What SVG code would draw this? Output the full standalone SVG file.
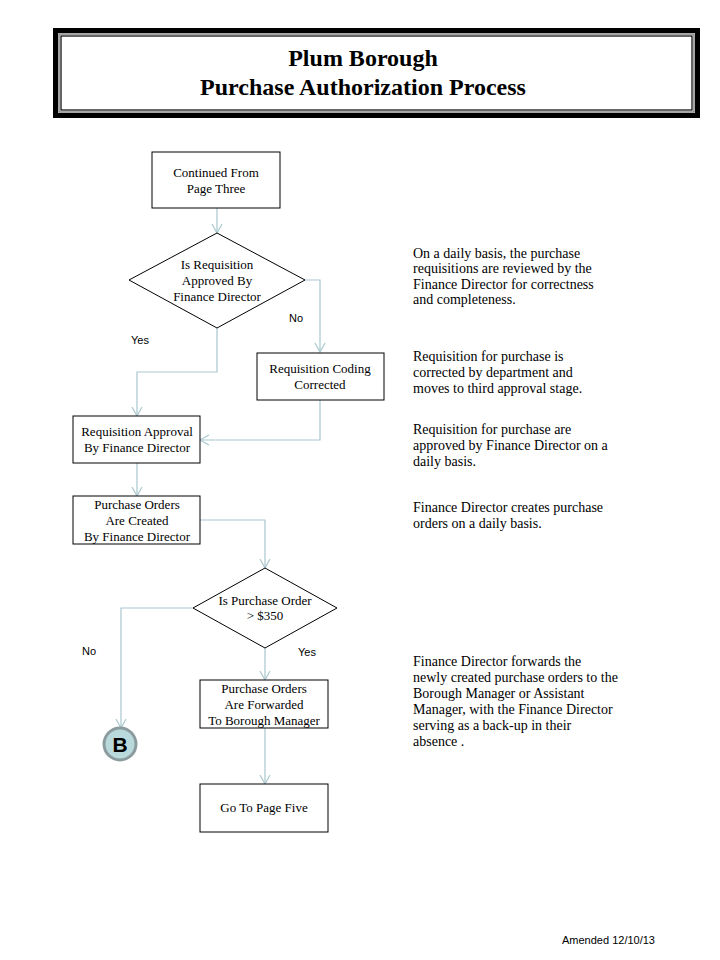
<svg xmlns="http://www.w3.org/2000/svg" width="720" height="960" viewBox="0 0 720 960">
<defs>
<style>
.box{fill:#fff;stroke:#000;stroke-width:1}
.t{font-family:"Liberation Serif","Times New Roman",serif;font-size:13px;fill:#000;text-anchor:middle}
.n{font-family:"Liberation Serif","Times New Roman",serif;font-size:14px;fill:#000}
.lab{font-family:"Liberation Sans",Arial,sans-serif;font-size:11px;fill:#000}
.c{fill:none;stroke:#a9c7cf;stroke-width:1.2}
.title{font-family:"Liberation Serif","Times New Roman",serif;font-size:24px;font-weight:bold;fill:#000;text-anchor:middle}
</style>
<marker id="ah" markerWidth="12" markerHeight="12" refX="10" refY="6" orient="auto" markerUnits="userSpaceOnUse">
<path d="M1,1 L10,6 L1,11" fill="none" stroke="#a9c7cf" stroke-width="1.2"/>
</marker>
</defs>
<rect width="720" height="960" fill="#fff"/>
<g id="title">
<rect x="55.5" y="30.5" width="642" height="85" fill="#fff" stroke="#000" stroke-width="5"/>
<rect x="59" y="34" width="635" height="78" fill="none" stroke="#888" stroke-width="1.5"/>
<rect x="61" y="36" width="631" height="74" fill="none" stroke="#000" stroke-width="1.2"/>
<text class="title" x="363" y="66">Plum Borough</text>
<text class="title" x="363" y="95">Purchase Authorization Process</text>
</g>
<g id="connectors">
<path class="c" d="M217,208 L217,233" marker-end="url(#ah)"/>
<path class="c" d="M305,280 L320,280 L320,352" marker-end="url(#ah)"/>
<path class="c" d="M217,328 L217,372 L137,372 L137,416" marker-end="url(#ah)"/>
<path class="c" d="M320,400 L320,440 L200,440" marker-end="url(#ah)"/>
<path class="c" d="M137,463 L137,496" marker-end="url(#ah)"/>
<path class="c" d="M200,520 L265,520 L265,568" marker-end="url(#ah)"/>
<path class="c" d="M193,608 L121,608 L121,728" marker-end="url(#ah)"/>
<path class="c" d="M265,648 L265,680" marker-end="url(#ah)"/>
<path class="c" d="M265,728 L265,784" marker-end="url(#ah)"/>
<text class="lab" x="289" y="322">No</text>
<text class="lab" x="131" y="344">Yes</text>
<text class="lab" x="82" y="655">No</text>
<text class="lab" x="298" y="656">Yes</text>
</g>
<g id="start">
<rect class="box" x="152" y="152" width="128" height="56"/>
<text class="t" x="216" y="177">Continued From</text>
<text class="t" x="216" y="193">Page Three</text>
</g>
<g id="decision1">
<polygon class="box" points="217,233 305,280 217,328 129,280"/>
<text class="t" x="217" y="269">Is Requisition</text>
<text class="t" x="217" y="285">Approved By</text>
<text class="t" x="217" y="301">Finance Director</text>
</g>
<g id="coding">
<rect class="box" x="257" y="353" width="127" height="47"/>
<text class="t" x="320" y="373">Requisition Coding</text>
<text class="t" x="320" y="389">Corrected</text>
</g>
<g id="approval">
<rect class="box" x="73" y="416" width="127" height="47"/>
<text class="t" x="137" y="436">Requisition Approval</text>
<text class="t" x="137" y="452">By Finance Director</text>
</g>
<g id="created">
<rect class="box" x="73" y="496" width="127" height="48"/>
<text class="t" x="137" y="509">Purchase Orders</text>
<text class="t" x="137" y="525">Are  Created</text>
<text class="t" x="137" y="541">By Finance Director</text>
</g>
<g id="decision2">
<polygon class="box" points="265,568 337,608 265,648 193,608"/>
<text class="t" x="265" y="605">Is Purchase Order</text>
<text class="t" x="265" y="620">&gt; $350</text>
</g>
<g id="forwarded">
<rect class="box" x="200" y="680" width="128" height="48"/>
<text class="t" x="264" y="693">Purchase Orders</text>
<text class="t" x="264" y="709">Are  Forwarded</text>
<text class="t" x="264" y="725">To Borough Manager</text>
</g>
<g id="connectorB">
<circle cx="120" cy="744" r="16" fill="#b9d9dc" stroke="#8c9c9e" stroke-width="3"/>
<text x="120" y="752" font-family="'Liberation Sans',Arial,sans-serif" font-size="21" font-weight="bold" text-anchor="middle" fill="#000">B</text>
</g>
<g id="end">
<rect class="box" x="200" y="784" width="128" height="48"/>
<text class="t" x="264" y="812">Go  To Page Five</text>
</g>
<g id="notes">
<text class="n" x="413" y="258">On a daily basis, the purchase</text>
<text class="n" x="413" y="273">requisitions are reviewed  by the</text>
<text class="n" x="413" y="289">Finance Director  for correctness</text>
<text class="n" x="413" y="304">and completeness.</text>
<text class="n" x="413" y="361">Requisition  for purchase is</text>
<text class="n" x="413" y="377">corrected by department and</text>
<text class="n" x="413" y="393">moves to third approval stage.</text>
<text class="n" x="413" y="434">Requisition  for purchase are</text>
<text class="n" x="413" y="450">approved by Finance Director  on a</text>
<text class="n" x="413" y="466">daily basis.</text>
<text class="n" x="413" y="512">Finance Director  creates purchase</text>
<text class="n" x="413" y="528">orders  on a  daily basis.</text>
<text class="n" x="413" y="666">Finance Director  forwards the</text>
<text class="n" x="413" y="682">newly  created purchase orders to the</text>
<text class="n" x="413" y="698">Borough Manager  or Assistant</text>
<text class="n" x="413" y="714">Manager, with the Finance Director</text>
<text class="n" x="413" y="730">serving  as a back-up in their</text>
<text class="n" x="413" y="746">absence .</text>
</g>
<text x="562" y="944" font-family="'Liberation Sans',Arial,sans-serif" font-size="11" fill="#000">Amended 12/10/13</text>
</svg>
